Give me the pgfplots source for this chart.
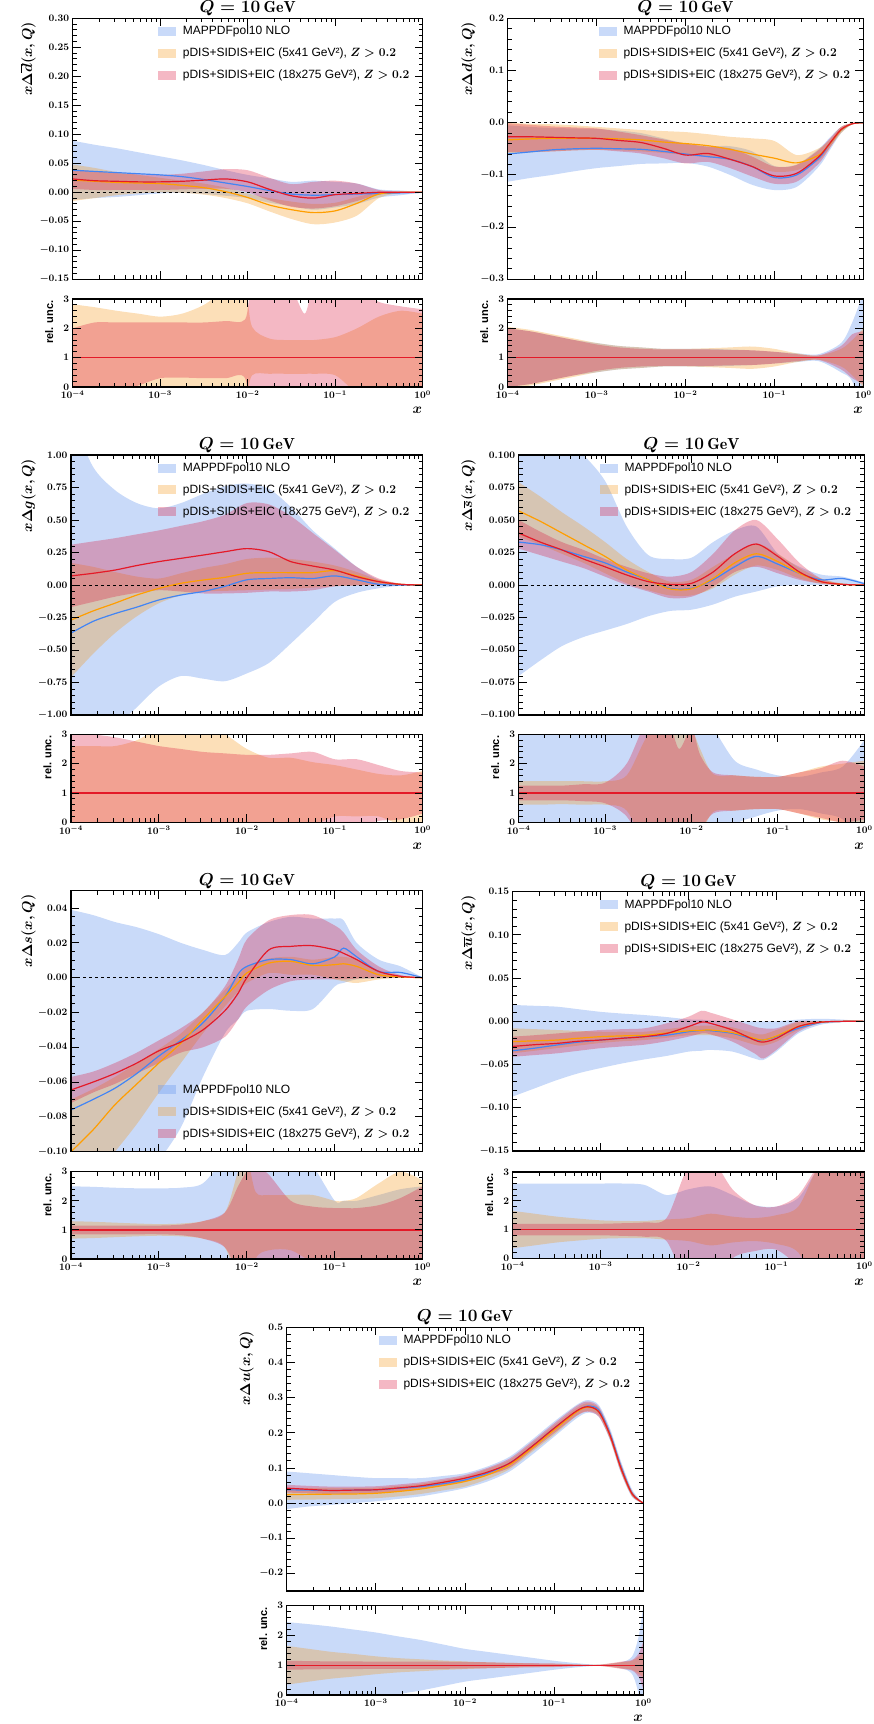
\documentclass[border=0pt]{standalone}
\usepackage{fontspec}
\setsansfont{Liberation Sans}
\usepackage{pgfplots}
\usepackage{pgfplotstable}
\pgfplotsset{compat=1.18}
\usepgfplotslibrary{fillbetween}

\definecolor{cB}{RGB}{100,149,237}
\definecolor{cO}{RGB}{245,148,20}
\definecolor{cR}{RGB}{220,20,60}
\definecolor{lB}{RGB}{66,133,244}
\definecolor{lO}{RGB}{255,158,0}
\definecolor{lR}{RGB}{228,26,40}

\tikzset{
  bandB/.style={fill=cB, fill opacity=0.35, draw=none},
  bandO/.style={fill=cO, fill opacity=0.3, draw=none},
  bandR/.style={fill=cR, fill opacity=0.3, draw=none},
}

\pgfplotsset{
  pdfbase/.style={
    scale only axis, anchor=north west,
    xmin=1e-4, xmax=1,
    xtick={1e-4,1e-3,1e-2,1e-1,1},
    axis on top,
    axis line style={line width=1.4pt},
    tick align=inside, tick pos=both,
    xticklabel pos=lower, yticklabel pos=left,
    major tick length=8pt, minor tick length=4pt,
    tick style={black, line width=0.9pt},
    scaled y ticks=false,
    tick label style={font=\boldmath\fontsize{10}{12}\selectfont},
  },
  pdfmain/.style={pdfbase, xticklabels={},
    title={$Q = 10\,\mathrm{GeV}$},
    title style={font=\boldmath\fontsize{16}{19}\selectfont, at={(0.5,1)}, anchor=base, yshift=-0.5pt},
    legend image code/.code={\fill[##1] (0pt,-4.5pt) rectangle (18pt,4.5pt);},
    legend cell align=left,
    legend style={draw=none, fill=none, font=\sffamily\fontsize{12}{14}\selectfont\boldmath,
      row sep=7.7pt, column sep=5pt},
    minor y tick num=4,
  },
  prec/.style={yticklabel style={/pgf/number format/.cd, fixed, fixed zerofill, precision=#1}},
  mlab/.style 2 args={ylabel={#1},
    ylabel style={font=\boldmath\fontsize{14}{17}\selectfont,
      at={([xshift=#2, yshift=-0.2pt]axis description cs:0,1)}, anchor=south east}},
  legTR/.style={legend style={at={(1,1)}, anchor=north east, xshift=-8pt, yshift=-3.7pt}},
  legBR/.style={legend style={at={(1,0)}, anchor=south east, xshift=-8pt, yshift=9pt}},
  pdfratio/.style={pdfbase, height=88pt, ymin=0, ymax=3, ytick={0,1,2,3}, minor y tick num=4,
    yticklabel style={/pgf/number format/.cd, fixed, precision=0},
    ylabel={rel. unc.},
    ylabel style={font=\sffamily\bfseries\fontsize{11}{13}\selectfont,
      at={([xshift=-16pt, yshift=2pt]axis description cs:0,1)}, anchor=south east},
    xlabel={$x$},
    xlabel style={font=\boldmath\fontsize{14}{16}\selectfont,
      at={(axis description cs:1,0)}, anchor=north east, yshift=-17pt, xshift=3pt},
  },
}

\newcommand\band[4]{%
  \addplot[draw=none, smooth, name path=L#2, forget plot] table[x=x,y=#2]{#1};
  \addplot[draw=none, smooth, name path=U#3, forget plot] table[x=x,y=#3]{#1};
  \addplot[#4, forget plot] fill between[of=U#3 and L#2];}

\newcommand\mainset[1]{%
  \band{#1}{bl}{bu}{bandB}
  \band{#1}{ol}{ou}{bandO}
  \band{#1}{rl}{ru}{bandR}
  \addplot[black, dashed, line width=0.8pt, forget plot] coordinates {(1e-4,0) (1,0)};
  \addplot[lB, line width=1.2pt, smooth, forget plot] table[x=x,y=bc]{#1};
  \addplot[lO, line width=1.2pt, smooth, forget plot] table[x=x,y=oc]{#1};
  \addplot[lR, line width=1.2pt, smooth, forget plot] table[x=x,y=rc]{#1};}

\newcommand\legthree{%
  \addlegendimage{bandB}\addlegendentry{MAPPDFpol10 NLO}
  \addlegendimage{bandO}\addlegendentry{pDIS+SIDIS+EIC (5x41 GeV²), $Z > 0.2$}
  \addlegendimage{bandR}\addlegendentry{pDIS+SIDIS+EIC (18x275 GeV²), $Z > 0.2$}}

\newcommand\oneline{\addplot[lR, line width=1.2pt, forget plot] coordinates {(1e-4,1) (1,1)};}

% ---------- x Delta dbar
\pgfplotstableread{
x bc bl bu oc ol ou rc rl ru
1e-4 0.038 -0.013 0.089 0.021 -0.015 0.048 0.023 0.006 0.040
1.778e-4 0.036 -0.010 0.082 0.019 -0.010 0.042 0.020 0.004 0.036
3.162e-4 0.034 -0.008 0.076 0.017 -0.005 0.035 0.019 0.004 0.033
5.623e-4 0.032 -0.005 0.069 0.016 -0.002 0.030 0.018 0.004 0.031
1e-3 0.030 -0.002 0.062 0.015 0.000 0.025 0.018 0.004 0.030
1.778e-3 0.027 -0.001 0.055 0.012 -0.001 0.020 0.019 0.005 0.032
3.162e-3 0.022 -0.003 0.047 0.008 -0.004 0.015 0.021 0.006 0.036
5.623e-3 0.016 -0.006 0.038 0.001 -0.010 0.008 0.023 0.006 0.040
1e-2 0.010 -0.010 0.030 -0.009 -0.019 -0.002 0.018 0.000 0.038
1.778e-2 0.003 -0.018 0.024 -0.022 -0.033 -0.010 0.005 -0.014 0.025
3.162e-2 -0.003 -0.024 0.018 -0.030 -0.046 -0.016 -0.006 -0.025 0.014
5.623e-2 -0.005 -0.030 0.020 -0.035 -0.055 -0.020 -0.010 -0.028 0.018
0.1 -0.004 -0.026 0.018 -0.032 -0.052 -0.018 -0.004 -0.024 0.020
0.1778 -0.003 -0.020 0.015 -0.019 -0.040 -0.008 -0.002 -0.015 0.015
0.3162 -0.002 -0.009 0.005 -0.003 -0.010 0.000 0.000 -0.004 0.004
0.5623 -0.001 -0.005 0.003 0.000 -0.001 0.000 0.000 -0.001 0.001
1 0 0 0 0 0 0 0 0 0
}\tPa
\pgfplotstableread{
x ol ou rl ru
1e-4 -0.8 2.82 -0.2 2.0
1.778e-4 -0.7 2.72 -0.3 2.2
3.162e-4 -0.6 2.6 -0.2 2.2
5.623e-4 -0.5 2.5 0.05 2.2
1e-3 -0.4 2.4 0.3 2.2
1.778e-3 -0.5 2.5 0.32 2.2
3.162e-3 -0.8 2.8 0.3 2.2
5.623e-3 -1.3 3.3 0.3 2.25
9.33e-3 -0.5 3.3 0.3 2.3
1.122e-2 0.4 2.05 -1.5 3.5
1.778e-2 0.45 1.65 -1.2 3.5
3.162e-2 0.45 1.6 -1.0 3.3
4.467e-2 0.45 1.6 -0.9 2.5
5.623e-2 0.45 1.6 -0.9 3.3
0.1 0.4 1.7 -1.0 3.5
0.1778 -0.2 2.0 -1.0 3.3
0.3162 -0.4 2.4 -0.8 2.9
0.5623 -0.6 2.6 -0.8 2.75
1 -0.5 2.5 -0.7 2.65
}\tRa

% ---------- x Delta d
\pgfplotstableread{
x bc bl bu oc ol ou rc rl ru
1e-4 -0.060 -0.113 -0.005 -0.033 -0.059 0.000 -0.027 -0.056 -0.001
1.778e-4 -0.056 -0.106 -0.008 -0.031 -0.057 -0.002 -0.027 -0.056 -0.004
3.162e-4 -0.052 -0.100 -0.010 -0.030 -0.055 -0.003 -0.028 -0.055 -0.007
5.623e-4 -0.050 -0.093 -0.011 -0.030 -0.053 -0.005 -0.029 -0.053 -0.009
1e-3 -0.049 -0.087 -0.012 -0.030 -0.052 -0.008 -0.030 -0.052 -0.011
1.778e-3 -0.050 -0.083 -0.015 -0.031 -0.053 -0.011 -0.034 -0.055 -0.017
3.162e-3 -0.051 -0.079 -0.020 -0.033 -0.055 -0.014 -0.038 -0.059 -0.024
5.623e-3 -0.055 -0.078 -0.030 -0.037 -0.058 -0.016 -0.049 -0.068 -0.032
1e-2 -0.060 -0.077 -0.040 -0.040 -0.062 -0.018 -0.062 -0.078 -0.040
1.778e-2 -0.065 -0.084 -0.045 -0.044 -0.066 -0.022 -0.059 -0.075 -0.046
3.162e-2 -0.070 -0.100 -0.045 -0.051 -0.072 -0.027 -0.070 -0.087 -0.049
5.623e-2 -0.084 -0.119 -0.055 -0.060 -0.084 -0.030 -0.084 -0.103 -0.065
0.1 -0.105 -0.129 -0.083 -0.068 -0.094 -0.035 -0.102 -0.117 -0.084
0.1778 -0.100 -0.123 -0.080 -0.077 -0.091 -0.062 -0.097 -0.113 -0.081
0.3162 -0.068 -0.084 -0.050 -0.062 -0.072 -0.049 -0.065 -0.078 -0.052
0.4217 -0.040 -0.052 -0.028 -0.040 -0.047 -0.032 -0.039 -0.048 -0.030
0.5623 -0.014 -0.020 -0.008 -0.014 -0.020 -0.008 -0.013 -0.017 -0.008
0.75 -0.002 -0.003 -0.001 -0.002 -0.003 -0.001 -0.002 -0.003 -0.001
1 0 0 0 0 0 0 0 0 0
}\tPb
\pgfplotstableread{
x bl bu ol ou rl ru
1e-4 0.0 2.0 -0.05 2.05 0.0 2.0
1.778e-4 0.1 1.9 0.05 1.95 0.1 1.9
3.162e-4 0.25 1.75 0.2 1.8 0.25 1.75
5.623e-4 0.4 1.6 0.35 1.65 0.4 1.6
1e-3 0.5 1.5 0.5 1.5 0.55 1.45
1.778e-3 0.6 1.4 0.6 1.4 0.65 1.35
3.162e-3 0.65 1.35 0.65 1.35 0.7 1.3
5.623e-3 0.7 1.3 0.7 1.3 0.72 1.28
1e-2 0.7 1.3 0.7 1.3 0.72 1.28
1.778e-2 0.7 1.3 0.68 1.32 0.72 1.28
3.162e-2 0.72 1.28 0.65 1.35 0.74 1.26
5.623e-2 0.75 1.25 0.62 1.38 0.75 1.25
0.1 0.8 1.2 0.7 1.3 0.8 1.2
0.1778 0.85 1.15 0.85 1.15 0.88 1.12
0.3162 0.88 1.12 0.93 1.07 0.92 1.08
0.5623 0.5 1.5 0.7 1.3 0.6 1.4
0.75 0.2 2.2 0.4 1.6 0.3 1.8
1 -1 3.2 0.0 2.0 0.1 1.9
}\tRb

% ---------- x Delta g
\pgfplotstableread{
x bc bl bu oc ol ou rc rl ru
1e-4 -0.37 -1.6 1.3 -0.27 -0.71 0.17 0.07 -0.17 0.31
1.778e-4 -0.28 -1.35 0.91 -0.20 -0.53 0.14 0.09 -0.13 0.335
3.162e-4 -0.22 -1.10 0.73 -0.14 -0.37 0.10 0.115 -0.09 0.36
5.623e-4 -0.17 -0.94 0.63 -0.077 -0.24 0.065 0.15 -0.06 0.39
1e-3 -0.115 -0.78 0.59 -0.026 -0.14 0.05 0.18 -0.04 0.42
1.778e-3 -0.077 -0.70 0.63 0.013 -0.08 0.09 0.205 -0.05 0.455
3.162e-3 -0.05 -0.72 0.70 0.038 -0.05 0.13 0.23 -0.065 0.49
5.623e-3 -0.01 -0.74 0.76 0.059 -0.045 0.16 0.256 -0.065 0.54
1e-2 0.04 -0.68 0.78 0.09 -0.04 0.20 0.28 -0.06 0.63
1.778e-2 0.05 -0.60 0.74 0.095 -0.035 0.21 0.256 -0.05 0.62
3.162e-2 0.056 -0.45 0.60 0.095 -0.03 0.20 0.18 -0.05 0.53
5.623e-2 0.05 -0.29 0.42 0.095 -0.02 0.18 0.146 -0.04 0.40
0.1 0.07 -0.13 0.28 0.11 -0.01 0.15 0.115 -0.01 0.27
0.1778 0.04 -0.06 0.14 0.07 -0.003 0.10 0.064 -0.003 0.14
0.3162 0.005 -0.025 0.04 0.026 0.0 0.04 0.026 0.0 0.05
0.5623 0.0 -0.005 0.01 0.005 0.0 0.01 0.005 0.0 0.01
1 0 0 0 0 0 0 0 0 0
}\tPc
\pgfplotstableread{
x ol ou rl ru
1e-4 -0.6 2.6 -0.9 3.1
1.778e-4 -0.6 2.6 -0.8 3.0
3.162e-4 -0.6 2.6 -0.7 2.9
5.623e-4 -0.8 2.8 -0.6 2.75
1e-3 -1.2 3.2 -0.5 2.6
1.778e-3 -1.3 3.3 -0.4 2.5
3.162e-3 -1.3 3.3 -0.4 2.4
5.623e-3 -1.0 3.0 -0.35 2.35
1e-2 -0.5 2.5 -0.3 2.3
1.778e-2 -0.2 2.2 -0.3 2.3
3.162e-2 -0.2 2.2 -0.35 2.35
5.623e-2 -0.1 2.05 -0.4 2.4
0.1 0.2 1.95 -0.15 2.15
0.1778 0.2 1.8 -0.15 2.15
0.3162 0.2 1.65 0.05 1.95
0.5623 -0.1 1.6 0.1 1.75
1 -0.3 1.75 0.3 1.7
}\tRc

% ---------- x Delta sbar
\pgfplotstableread{
x bc bl bu oc ol ou rc rl ru
1e-4 0.033 -0.070 0.14 0.057 0.037 0.079 0.040 0.028 0.050
1.778e-4 0.031 -0.058 0.13 0.049 0.031 0.068 0.033 0.023 0.041
3.162e-4 0.027 -0.047 0.115 0.040 0.024 0.056 0.027 0.018 0.033
5.623e-4 0.022 -0.040 0.10 0.031 0.017 0.045 0.020 0.013 0.027
1e-3 0.017 -0.035 0.08 0.022 0.009 0.033 0.014 0.0064 0.020
1.778e-3 0.010 -0.030 0.045 0.0115 0.0013 0.020 0.0077 0.0 0.014
3.162e-3 0.004 -0.024 0.023 0.004 -0.004 0.010 0.0026 -0.005 0.009
5.623e-3 -0.0026 -0.020 0.020 -0.003 -0.008 0.0026 0.0005 -0.010 0.0064
1e-2 -0.0026 -0.019 0.021 -0.003 -0.008 0.004 0.0013 -0.009 0.010
1.778e-2 0.004 -0.015 0.033 0.005 -0.0026 0.014 0.010 -0.0013 0.024
3.162e-2 0.014 -0.009 0.042 0.017 0.008 0.024 0.024 0.010 0.042
5.623e-2 0.022 -0.005 0.045 0.024 0.015 0.032 0.0315 0.014 0.050
0.1 0.016 -0.001 0.024 0.018 0.0115 0.024 0.022 0.009 0.035
0.1778 0.009 0.0 0.014 0.009 0.005 0.013 0.010 0.004 0.017
0.3162 0.004 0.0 0.008 0.0026 0.001 0.005 0.0026 0.001 0.005
0.5623 0.005 0.0 0.0064 0.0005 0.0 0.001 0.0005 0.0 0.001
1 0.001 0.0 0.002 0 0 0 0 0 0
}\tPd
\pgfplotstableread{
x bl bu ol ou rl ru
1e-4 -1.5 3.5 0.6 1.4 0.75 1.25
1.778e-4 -1.5 3.5 0.6 1.4 0.75 1.25
3.162e-4 -1.5 3.5 0.62 1.4 0.75 1.25
5.623e-4 -1.5 3.5 0.6 1.4 0.72 1.3
1e-3 -1.5 3.5 0.6 1.4 0.65 1.35
1.778e-3 -1.5 3.5 0.4 1.6 0.2 2.0
3.162e-3 -1.5 3.5 -1.0 3.0 -1.0 3.5
5.623e-3 -1.5 3.5 -1.5 3.5 -1.0 3.2
7.24e-3 -1.5 3.5 -1.5 3.5 -1.0 2.5
1e-2 -1.5 3.5 -1.2 3.2 -1.0 3.2
1.259e-2 -1.5 3.5 -0.5 2.5 -0.3 2.3
1.778e-2 -1.2 3.2 0.35 1.65 0.3 1.7
3.162e-2 -0.1 2.1 0.4 1.6 0.4 1.6
5.623e-2 0.2 1.8 0.45 1.55 0.45 1.55
0.1 0.4 1.6 0.45 1.55 0.45 1.55
0.1778 0.45 1.55 0.3 1.7 0.3 1.7
0.3162 0.3 1.7 0.1 1.9 0.15 1.85
0.5623 0.1 1.9 0.0 2.0 0.0 2.1
1 -0.8 2.8 -0.1 2.1 0.1 1.9
}\tRd

% ---------- x Delta s
\pgfplotstableread{
x bc bl bu oc ol ou rc rl ru
1e-4 -0.076 -0.20 0.039 -0.100 -0.13 -0.070 -0.0645 -0.072 -0.057
1.778e-4 -0.070 -0.17 0.036 -0.0875 -0.115 -0.064 -0.060 -0.066 -0.054
3.162e-4 -0.0635 -0.15 0.032 -0.073 -0.100 -0.057 -0.055 -0.061 -0.049
5.623e-4 -0.055 -0.12 0.029 -0.061 -0.084 -0.049 -0.049 -0.055 -0.043
1e-3 -0.045 -0.105 0.025 -0.049 -0.066 -0.041 -0.042 -0.049 -0.036
1.778e-3 -0.036 -0.086 0.020 -0.0376 -0.049 -0.032 -0.037 -0.043 -0.029
3.162e-3 -0.026 -0.057 0.016 -0.024 -0.032 -0.020 -0.030 -0.040 -0.020
5.623e-3 -0.011 -0.032 0.013 -0.011 -0.0165 -0.007 -0.019 -0.034 -0.005
7.943e-3 0.002 -0.024 0.020 -0.003 -0.008 0.001 -0.009 -0.024 0.0104
1e-2 0.0065 -0.019 0.026 0.0027 -0.003 0.0065 0.0 -0.0165 0.022
1.778e-2 0.0104 -0.018 0.032 0.0084 0.0027 0.011 0.016 -0.007 0.033
3.162e-2 0.0104 -0.019 0.035 0.0094 0.0017 0.012 0.018 -0.002 0.036
5.623e-2 0.008 -0.018 0.034 0.007 0.0017 0.0104 0.0184 -0.001 0.036
0.1 0.012 -0.005 0.034 0.0075 -0.001 0.012 0.016 -0.001 0.030
0.1259 0.017 -0.003 0.033 0.008 -0.002 0.012 0.014 -0.001 0.026
0.1778 0.012 -0.001 0.020 0.0065 -0.003 0.0104 0.0104 -0.0005 0.016
0.3162 0.0036 -0.0005 0.0104 0.0017 -0.001 0.004 0.0036 0.0 0.0065
0.5623 0.003 0.0 0.0065 0.0005 0.0 0.001 0.0008 0.0 0.0015
1 0 0 0 0 0 0 0 0 0
}\tPe
\pgfplotstableread{
x bl bu ol ou rl ru
1e-4 -0.5 2.5 0.7 1.3 0.85 1.15
1.778e-4 -0.48 2.48 0.72 1.28 0.85 1.15
3.162e-4 -0.45 2.45 0.75 1.25 0.85 1.15
5.623e-4 -0.43 2.43 0.78 1.22 0.85 1.15
1e-3 -0.43 2.43 0.8 1.2 0.85 1.15
1.778e-3 -0.45 2.45 0.78 1.22 0.82 1.18
3.162e-3 -0.6 2.6 0.7 1.3 0.7 1.3
5.623e-3 -1.5 3.5 0.4 1.6 0.4 1.6
7.943e-3 -2 4 -1.0 3.0 -0.5 2.5
1e-2 -2 4 -1.5 3.5 -1.0 3.0
1.259e-2 -2 4 0.0 2.3 -0.5 3.2
1.778e-2 -2 4 0.3 2.2 -0.3 2.9
3.162e-2 -2 4 0.3 2.2 -0.2 2.0
5.623e-2 -1.2 3.2 -0.1 2.2 -0.2 1.8
0.1 0.0 2.0 -0.2 2.0 -0.3 1.75
0.1259 0.0 2.0 -0.2 2.0 -0.3 1.75
0.1778 0.0 2.0 -0.2 2.1 -0.3 1.75
0.3162 -0.2 2.2 -0.3 2.6 -0.3 1.85
0.5623 -0.5 2.4 -0.5 3.0 -0.3 2.1
1 -0.5 2.5 -0.5 2.7 -0.3 2.5
}\tRe

% ---------- x Delta ubar
\pgfplotstableread{
x bc bl bu oc ol ou rc rl ru
1e-4 -0.034 -0.087 0.019 -0.0235 -0.037 -0.008 -0.029 -0.041 -0.0177
1.778e-4 -0.031 -0.0775 0.018 -0.0225 -0.034 -0.009 -0.027 -0.039 -0.016
3.162e-4 -0.0274 -0.068 0.017 -0.0216 -0.031 -0.010 -0.0255 -0.037 -0.014
5.623e-4 -0.024 -0.060 0.014 -0.0195 -0.028 -0.011 -0.023 -0.034 -0.012
1e-3 -0.0216 -0.054 0.011 -0.0177 -0.025 -0.012 -0.0216 -0.031 -0.010
1.778e-3 -0.0195 -0.0486 0.009 -0.0168 -0.023 -0.012 -0.0195 -0.029 -0.009
3.162e-3 -0.0177 -0.044 0.0073 -0.016 -0.0216 -0.012 -0.0177 -0.027 -0.008
5.623e-3 -0.016 -0.040 0.005 -0.0135 -0.019 -0.009 -0.014 -0.023 -0.0023
1e-2 -0.012 -0.035 0.0023 -0.011 -0.016 -0.006 -0.006 -0.0177 0.0054
1.413e-2 -0.0105 -0.034 0.002 -0.0105 -0.016 -0.005 -0.0008 -0.014 0.0123
1.778e-2 -0.0108 -0.033 0.001 -0.010 -0.016 -0.005 -0.0023 -0.015 0.010
3.162e-2 -0.0139 -0.035 0.0 -0.013 -0.0197 -0.007 -0.010 -0.0235 0.0023
5.623e-2 -0.021 -0.043 0.0 -0.0197 -0.027 -0.014 -0.0216 -0.037 -0.006
7.079e-2 -0.0216 -0.0447 0.0 -0.0216 -0.028 -0.015 -0.024 -0.043 -0.008
0.1 -0.0177 -0.035 0.0 -0.017 -0.0235 -0.010 -0.0197 -0.033 -0.008
0.1778 -0.008 -0.014 0.002 -0.006 -0.010 -0.001 -0.006 -0.012 0.0
0.3162 -0.0015 -0.004 0.003 -0.001 -0.002 0.0 -0.001 -0.002 0.0
0.5623 0.0 -0.001 0.002 0 0 0 0 0 0
1 0 0 0 0 0 0 0 0 0
}\tPf
\pgfplotstableread{
x bl bu ol ou rl ru
1e-4 -0.6 2.6 0.35 1.65 0.8 1.2
1.778e-4 -0.6 2.6 0.45 1.55 0.8 1.2
3.162e-4 -0.6 2.6 0.55 1.45 0.8 1.2
5.623e-4 -0.6 2.6 0.62 1.38 0.8 1.2
1e-3 -0.6 2.6 0.68 1.32 0.8 1.2
1.778e-3 -0.55 2.6 0.7 1.3 0.78 1.22
3.162e-3 -0.5 2.55 0.7 1.3 0.75 1.25
5.623e-3 -0.3 2.2 0.65 1.35 0.6 1.4
1e-2 -0.3 2.4 0.6 1.4 -1.0 3.2
1.778e-2 -0.2 2.5 0.45 1.55 -1.0 3.5
3.162e-2 -0.1 2.2 0.55 1.45 0.0 2.4
5.623e-2 -0.1 1.85 0.6 1.4 0.25 1.85
0.1 -0.1 1.8 0.5 1.5 0.3 1.8
0.1778 -0.2 2.1 0.2 1.8 -0.3 2.2
0.3162 -1.0 3.2 -1.2 3.3 -1.2 3.3
0.5623 -1.5 3.5 -1.5 3.5 -1.5 3.5
1 -1.5 3.5 -1.5 3.5 -1.5 3.5
}\tRf

% ---------- x Delta u
\pgfplotstableread{
x bc bl bu oc ol ou rc rl ru
1e-4 0.038 -0.017 0.090 0.024 0.0095 0.0426 0.0426 0.030 0.052
1.778e-4 0.037 -0.0095 0.085 0.025 0.010 0.043 0.039 0.028 0.049
3.162e-4 0.036 -0.005 0.080 0.0255 0.011 0.043 0.036 0.026 0.047
5.623e-4 0.037 0.0 0.075 0.026 0.012 0.043 0.037 0.027 0.047
1e-3 0.038 0.005 0.071 0.028 0.014 0.044 0.038 0.028 0.048
1.778e-3 0.042 0.012 0.071 0.033 0.019 0.049 0.043 0.033 0.053
3.162e-3 0.047 0.019 0.071 0.040 0.026 0.055 0.049 0.040 0.059
5.623e-3 0.055 0.030 0.077 0.050 0.036 0.065 0.059 0.050 0.069
1e-2 0.066 0.0426 0.085 0.0615 0.047 0.076 0.071 0.0615 0.080
1.778e-2 0.085 0.0615 0.104 0.080 0.068 0.097 0.088 0.079 0.100
3.162e-2 0.1135 0.09 0.132 0.109 0.0965 0.123 0.1135 0.101 0.127
5.623e-2 0.161 0.137 0.18 0.156 0.145 0.170 0.161 0.150 0.175
0.1 0.213 0.189 0.232 0.208 0.194 0.222 0.213 0.199 0.227
0.1778 0.26 0.241 0.279 0.259 0.248 0.27 0.262 0.248 0.276
0.2371 0.276 0.257 0.293 0.273 0.262 0.284 0.274 0.26 0.289
0.3162 0.265 0.246 0.279 0.26 0.25 0.27 0.26 0.246 0.274
0.4217 0.199 0.18 0.213 0.194 0.184 0.203 0.194 0.182 0.206
0.5623 0.104 0.085 0.118 0.099 0.09 0.109 0.099 0.087 0.112
0.75 0.028 0.017 0.038 0.026 0.020 0.032 0.026 0.019 0.033
1 0 0 0 0 0 0 0 0 0
}\tPg
\pgfplotstableread{
x bl bu ol ou rl ru
1e-4 -0.45 2.45 0.35 1.65 0.85 1.15
1.778e-4 -0.38 2.38 0.45 1.55 0.86 1.14
3.162e-4 -0.3 2.3 0.55 1.45 0.87 1.13
5.623e-4 -0.2 2.2 0.62 1.38 0.87 1.13
1e-3 -0.1 2.1 0.7 1.3 0.88 1.12
1.778e-3 0.03 1.97 0.76 1.24 0.88 1.12
3.162e-3 0.15 1.85 0.8 1.2 0.88 1.12
5.623e-3 0.3 1.7 0.84 1.16 0.88 1.12
1e-2 0.45 1.55 0.87 1.13 0.89 1.11
1.778e-2 0.55 1.45 0.9 1.1 0.9 1.1
3.162e-2 0.65 1.35 0.92 1.08 0.92 1.08
5.623e-2 0.75 1.25 0.94 1.06 0.93 1.07
0.1 0.85 1.15 0.95 1.05 0.94 1.06
0.1778 0.93 1.07 0.97 1.03 0.97 1.03
0.3162 0.98 1.02 0.98 1.02 0.98 1.02
0.5623 0.9 1.1 0.9 1.1 0.88 1.12
0.75 0.7 1.3 0.85 1.15 0.82 1.18
0.891 0.0 2.0 0.7 1.3 0.6 1.4
1 -1 3.0 0.6 1.4 0.2 1.8
}\tRg

\begin{document}
\begin{tikzpicture}

% ===== row 1 left
\begin{axis}[xmode=log, pdfmain, legTR, at={(72.7pt,-18.3pt)}, width=350pt, height=261pt,
  ymin=-0.15, ymax=0.3, ytick={-0.15,-0.1,-0.05,0,0.05,0.1,0.15,0.2,0.25,0.3}, prec=2,
  mlab={$x\Delta\overline{d}(x,Q)$}{-33.4pt}]
\legthree
\mainset{\tPa}
\end{axis}
\begin{axis}[xmode=log, pdfratio, at={(72.7pt,-299pt)}, width=350pt]
\band{\tRa}{ol}{ou}{bandO}
\band{\tRa}{rl}{ru}{bandR}
\oneline
\end{axis}

% ===== row 1 right
\begin{axis}[xmode=log, pdfmain, legTR, at={(507.7pt,-18.3pt)}, width=355.6pt, height=261pt,
  ymin=-0.3, ymax=0.2, ytick={-0.3,-0.2,-0.1,0,0.1,0.2}, prec=1,
  mlab={$x\Delta d(x,Q)$}{-28.4pt}]
\legthree
\mainset{\tPb}
\end{axis}
\begin{axis}[xmode=log, pdfratio, at={(507.7pt,-299pt)}, width=355.6pt]
\band{\tRb}{bl}{bu}{bandB}
\band{\tRb}{ol}{ou}{bandO}
\band{\tRb}{rl}{ru}{bandR}
\oneline
\end{axis}

% ===== row 2 left
\begin{axis}[xmode=log, pdfmain, legTR, at={(71pt,-455pt)}, width=351.7pt, height=260pt,
  ymin=-1, ymax=1, ytick={-1,-0.75,-0.5,-0.25,0,0.25,0.5,0.75,1}, prec=2,
  mlab={$x\Delta g(x,Q)$}{-31.7pt}]
\legthree
\mainset{\tPc}
\end{axis}
\begin{axis}[xmode=log, pdfratio, at={(71pt,-734.3pt)}, width=351.7pt]
\band{\tRc}{ol}{ou}{bandO}
\band{\tRc}{rl}{ru}{bandR}
\oneline
\end{axis}

% ===== row 2 right
\begin{axis}[xmode=log, pdfmain, legTR, at={(518.7pt,-455pt)}, width=345.6pt, height=260pt,
  ymin=-0.1, ymax=0.1, ytick={-0.1,-0.075,-0.05,-0.025,0,0.025,0.05,0.075,0.1}, prec=3,
  mlab={$x\Delta\overline{s}(x,Q)$}{-39.4pt}]
\legthree
\mainset{\tPd}
\end{axis}
\begin{axis}[xmode=log, pdfratio, at={(518.7pt,-734.3pt)}, width=345.6pt]
\band{\tRd}{bl}{bu}{bandB}
\band{\tRd}{ol}{ou}{bandO}
\band{\tRd}{rl}{ru}{bandR}
\oneline
\end{axis}

% ===== row 3 left
\begin{axis}[xmode=log, pdfmain, legBR, at={(71pt,-890.7pt)}, width=351.7pt, height=261pt,
  ymin=-0.1, ymax=0.05, ytick={-0.1,-0.08,-0.06,-0.04,-0.02,0,0.02,0.04}, prec=2,
  minor y tick num=3,
  mlab={$x\Delta s(x,Q)$}{-31.7pt}]
\legthree
\mainset{\tPe}
\end{axis}
\begin{axis}[xmode=log, pdfratio, at={(71pt,-1171.7pt)}, width=351.7pt, height=87.3pt]
\band{\tRe}{bl}{bu}{bandB}
\band{\tRe}{ol}{ou}{bandO}
\band{\tRe}{rl}{ru}{bandR}
\oneline
\end{axis}

% ===== row 3 right
\begin{axis}[xmode=log, pdfmain, legTR, at={(512.7pt,-891.7pt)}, width=351.6pt, height=259.3pt,
  ymin=-0.15, ymax=0.15, ytick={-0.15,-0.1,-0.05,0,0.05,0.1,0.15}, prec=2,
  mlab={$x\Delta\overline{u}(x,Q)$}{-33.4pt}]
\legthree
\mainset{\tPf}
\end{axis}
\begin{axis}[xmode=log, pdfratio, at={(512.7pt,-1172pt)}, width=351.6pt, height=86.3pt]
\band{\tRf}{bl}{bu}{bandB}
\band{\tRf}{ol}{ou}{bandO}
\band{\tRf}{rl}{ru}{bandR}
\oneline
\end{axis}

% ===== row 4 centre
\begin{axis}[xmode=log, pdfmain, legTR, at={(286.7pt,-1327.3pt)}, width=356.6pt, height=263.7pt,
  ymin=-0.25, ymax=0.5, ytick={-0.2,-0.1,0,0.1,0.2,0.3,0.4,0.5}, prec=1,
  mlab={$x\Delta u(x,Q)$}{-29.4pt}]
\legthree
\mainset{\tPg}
\end{axis}
\begin{axis}[xmode=log, pdfratio, at={(286.7pt,-1605.7pt)}, width=356.6pt, height=89.3pt]
\band{\tRg}{bl}{bu}{bandB}
\band{\tRg}{ol}{ou}{bandO}
\band{\tRg}{rl}{ru}{bandR}
\oneline
\end{axis}

\pgfresetboundingbox
\path[use as bounding box] (0pt,0pt) rectangle (873pt,-1724pt);
\end{tikzpicture}
\end{document}
